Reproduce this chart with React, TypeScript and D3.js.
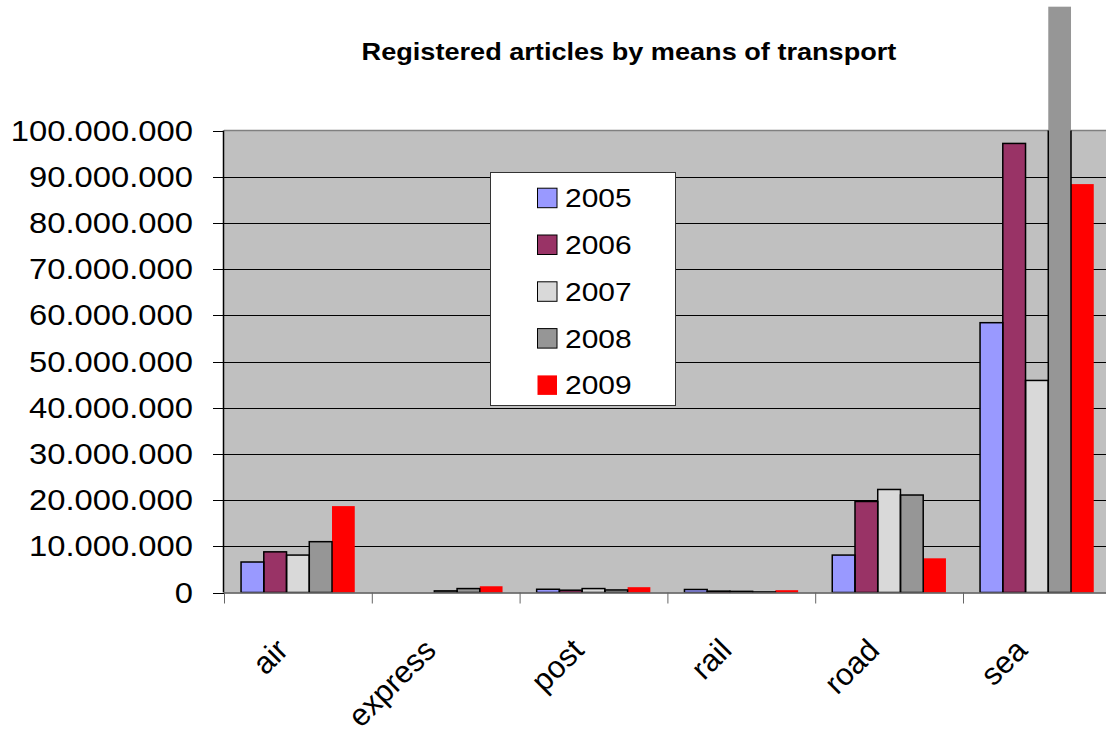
import React from "react";
import * as d3 from "d3";

// values in millions of articles
const categories = ["air", "express", "post", "rail", "road", "sea"];
const years = ["2005", "2006", "2007", "2008", "2009"];
const values2005 = [6.6, 0, 0.7, 0.65, 8.1, 58.4];
const values2006 = [8.8, 0, 0.5, 0.3, 19.7, 97.2];
const values2007 = [8.1, 0.35, 0.85, 0.25, 22.3, 45.9];
const values2008 = [11.0, 0.85, 0.55, 0.12, 21.1, 126.8];
const values2009 = [18.7, 1.35, 1.15, 0.5, 7.4, 88.4];
const yTicks = [0, 10, 20, 30, 40, 50, 60, 70, 80, 90, 100];
const title = "Registered articles by means of transport";

const series = [values2005, values2006, values2007, values2008, values2009];
const colors = ["#9999FF", "#993366", "#D9D9D9", "#969696", "#FF0000"];
const strokes = ["#000", "#000", "#000", "#000", "none"];

const W = 1106,
  H = 731;
const plot = { left: 224, top: 130.5, bottom: 592.5, step: 147.8 };
const font = "'Liberation Sans', Arial, sans-serif";
const sx = 1.13; // the original text looks stretched horizontally

const fmt = (v: number) =>
  v === 0 ? "0" : d3.format(",")(v * 1e6).replace(/,/g, ".");

export default function App() {
  const plotRight = plot.left + plot.step * categories.length;
  const x = d3
    .scaleBand<string>()
    .domain(categories)
    .range([plot.left, plotRight])
    .padding(0);
  const xi = d3
    .scaleBand<string>()
    .domain(years)
    .range([0, x.bandwidth()])
    .paddingInner(0)
    .paddingOuter(0.75);
  const y = d3.scaleLinear().domain([0, 100]).range([plot.bottom, plot.top]);

  const bars = categories.flatMap((c, ci) =>
    years.map((yr, si) => {
      const v = series[si][ci];
      return {
        key: c + yr,
        x: (x(c) ?? 0) + (xi(yr) ?? 0),
        y: y(v),
        w: xi.bandwidth(),
        h: y(0) - y(v),
        si,
      };
    })
  );

  return (
    <svg
      width={W}
      height={H}
      style={{ position: "absolute", left: 0, top: 0, background: "#fff" }}
      fontFamily={font}
    >
      <defs>
        <clipPath id="plotClip">
          <rect
            x={plot.left}
            y={plot.top}
            width={plotRight - plot.left}
            height={plot.bottom - plot.top}
          />
        </clipPath>
      </defs>

      {/* title */}
      <text
        transform={`translate(629,60) scale(${sx},1)`}
        textAnchor="middle"
        fontSize={24}
        fontWeight="bold"
      >
        {title}
      </text>

      {/* plot background */}
      <rect
        x={plot.left}
        y={plot.top}
        width={plotRight - plot.left}
        height={plot.bottom - plot.top}
        fill="#C0C0C0"
      />
      <line
        x1={plot.left}
        x2={plotRight}
        y1={plot.top}
        y2={plot.top}
        stroke="#808080"
        strokeWidth={1.5}
      />

      {/* gridlines */}
      {yTicks
        .filter((t) => t > 0 && t < 100)
        .map((t) => (
          <line
            key={t}
            x1={plot.left}
            x2={plotRight}
            y1={Math.round(y(t)) + 0.5}
            y2={Math.round(y(t)) + 0.5}
            stroke="#000"
          />
        ))}

      {/* bars: fill unclipped, outline clipped to the plot */}
      {bars.map((b) => (
        <rect
          key={b.key}
          x={b.x}
          y={b.y}
          width={b.w}
          height={b.h}
          fill={colors[b.si]}
        />
      ))}
      <g clipPath="url(#plotClip)">
        {bars
          .filter((b) => strokes[b.si] !== "none" && b.h > 0)
          .map((b) => (
            <rect
              key={b.key}
              x={b.x}
              y={b.y}
              width={b.w}
              height={b.h}
              fill="none"
              stroke={strokes[b.si]}
              strokeWidth={1.5}
            />
          ))}
      </g>

      {/* axes */}
      <line
        x1={plot.left - 0.5}
        x2={plot.left - 0.5}
        y1={plot.top}
        y2={plot.bottom}
        stroke="#000"
        strokeWidth={1.5}
      />
      <line
        x1={plot.left}
        x2={plotRight}
        y1={plot.bottom + 0.5}
        y2={plot.bottom + 0.5}
        stroke="#555"
        strokeWidth={1.5}
      />
      {yTicks.map((t) => (
        <g key={t}>
          <line
            x1={plot.left - 11}
            x2={plot.left}
            y1={Math.round(y(t)) + 0.5}
            y2={Math.round(y(t)) + 0.5}
            stroke="#000"
          />
          <text
            transform={`translate(193,${y(t) + 10}) scale(${sx},1)`}
            textAnchor="end"
            fontSize={29}
          >
            {fmt(t)}
          </text>
        </g>
      ))}
      {categories.map((c) => (
        <line
          key={c}
          x1={(x(c) ?? 0) + 0.5}
          x2={(x(c) ?? 0) + 0.5}
          y1={plot.bottom}
          y2={plot.bottom + 11}
          stroke="#666"
        />
      ))}
      {categories.map((c) => (
        <text
          key={c}
          transform={`translate(${(x(c) ?? 0) + x.bandwidth() / 2 - 8},652) rotate(-45)`}
          textAnchor="end"
          fontSize={31}
        >
          {c}
        </text>
      ))}

      {/* legend */}
      <g>
        <rect
          x={490.5}
          y={172.5}
          width={185}
          height={233}
          fill="#fff"
          stroke="#333"
        />
        {years.map((yr, i) => {
          const cy = 197.7 + i * 46.8;
          return (
            <g key={yr}>
              <rect
                x={537.5}
                y={cy - 9.5}
                width={19.5}
                height={19.5}
                fill={colors[i]}
                stroke={strokes[i] === "none" ? "none" : "#000"}
                strokeWidth={1}
              />
              <text
                transform={`translate(565,${cy + 9.5}) scale(${sx},1)`}
                fontSize={26.5}
              >
                {yr}
              </text>
            </g>
          );
        })}
      </g>
    </svg>
  );
}
